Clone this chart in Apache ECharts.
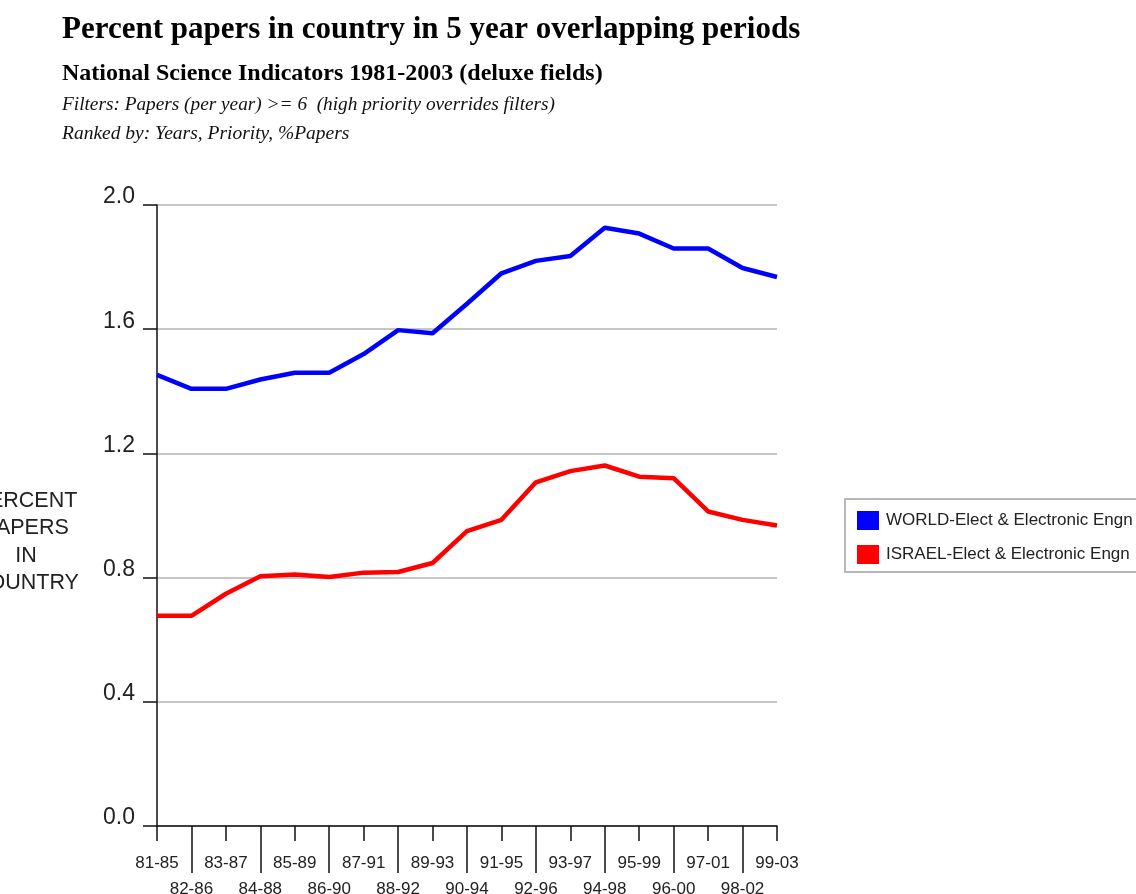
<!DOCTYPE html>
<html>
<head>
<meta charset="utf-8">
<script src="https://cdn.jsdelivr.net/npm/echarts@6/dist/echarts.min.js"></script>
<style>
html,body{margin:0;padding:0;background:#fff;}
#chart{width:1136px;height:894px;}
</style>
</head>
<body>
<div id="chart"></div>
<script>
const categories = ['81-85','82-86','83-87','84-88','85-89','86-90','87-91','88-92','89-93','90-94','91-95','92-96','93-97','94-98','95-99','96-00','97-01','98-02','99-03'];
const worldValues = [1.453,1.408,1.408,1.438,1.46,1.46,1.52,1.597,1.587,1.682,1.78,1.82,1.836,1.927,1.908,1.86,1.86,1.797,1.768];
const israelValues = [0.677,0.677,0.748,0.804,0.81,0.802,0.816,0.818,0.847,0.95,0.986,1.107,1.143,1.161,1.125,1.12,1.013,0.986,0.968];
const seriesNames = ['WORLD-Elect & Electronic Engn','ISRAEL-Elect & Electronic Engn'];
const yTicks = {min: 0, max: 2, interval: 0.4};
const titleText = 'Percent papers in country in 5 year overlapping periods';
const subtitleText = 'National Science Indicators 1981-2003 (deluxe fields)';
const filterText = 'Filters: Papers (per year) >= 6  (high priority overrides filters)';
const rankText = 'Ranked by: Years, Priority, %Papers';
const yAxisName = 'PERCENT\nPAPERS\nIN\nCOUNTRY';

const chart = echarts.init(document.getElementById('chart'), null, {renderer: 'canvas'});
const axisColor = '#111';
const labelFont = 'Arial, "Liberation Sans", sans-serif';
const serif = '"Liberation Serif", "Times New Roman", serif';

const option = {
  backgroundColor: '#ffffff',
  animation: false,
  grid: {left: 157, right: 359, top: 205, bottom: 68, containLabel: false, outerBoundsMode: 'none'},
  legend: {
    orient: 'vertical',
    left: 845, top: 499,
    padding: [12, 12, 8, 12],
    itemWidth: 22, itemHeight: 19, itemGap: 15,
    icon: 'rect',
    borderColor: '#b8b8b8', borderWidth: 2,
    backgroundColor: '#fff',
    textStyle: {fontSize: 17, color: '#222', fontFamily: labelFont, padding: [0, 0, 0, 2]},
    data: seriesNames
  },
  xAxis: [
    {
      type: 'category', data: categories, boundaryGap: false, position: 'bottom',
      axisLine: {show: true, lineStyle: {color: axisColor, width: 1.5}},
      axisTick: {show: true, interval: (i) => i % 2 === 0, length: 15, lineStyle: {color: axisColor, width: 1.5}},
      axisLabel: {interval: (i) => i % 2 === 0, margin: 29, fontSize: 17, lineHeight: 17, color: '#222', fontFamily: labelFont},
      splitLine: {show: false}
    },
    {
      type: 'category', data: categories, boundaryGap: false, position: 'bottom', offset: 0,
      axisLine: {show: false},
      axisTick: {show: true, interval: (i) => i % 2 === 1, length: 47, lineStyle: {color: axisColor, width: 1.5}},
      axisLabel: {interval: (i) => i % 2 === 1, margin: 55, fontSize: 17, lineHeight: 17, color: '#222', fontFamily: labelFont},
      splitLine: {show: false}
    }
  ],
  yAxis: {
    type: 'value', min: yTicks.min, max: yTicks.max, interval: yTicks.interval,
    axisLine: {show: true, lineStyle: {color: axisColor, width: 1.5}},
    axisTick: {show: true, length: 14, lineStyle: {color: axisColor, width: 1.5}},
    axisLabel: {
      formatter: (v) => v.toFixed(1), fontSize: 23, lineHeight: 16, color: '#222', fontFamily: labelFont,
      margin: 22, verticalAlign: 'bottom'
    },
    splitLine: {show: true, lineStyle: {color: '#c6c6c6', width: 2}}
  },
  series: [
    {
      name: seriesNames[0], type: 'line', data: worldValues, xAxisIndex: 0,
      symbol: 'none', lineStyle: {color: '#0000ff', width: 4.5}, itemStyle: {color: '#0000ff'}
    },
    {
      name: seriesNames[1], type: 'line', data: israelValues, xAxisIndex: 0,
      symbol: 'none', lineStyle: {color: '#ff0000', width: 4.5}, itemStyle: {color: '#ff0000'}
    }
  ],
  graphic: [
    {type: 'text', left: 62, top: 14, style: {text: titleText, fontSize: 31, fontWeight: 'bold', fontFamily: serif, fill: '#000'}},
    {type: 'text', left: 62, top: 62, style: {text: subtitleText, fontSize: 24, fontWeight: 'bold', fontFamily: serif, fill: '#000'}},
    {type: 'text', left: 62, top: 95, style: {text: filterText, fontSize: 19.3, fontStyle: 'italic', fontFamily: serif, fill: '#111'}},
    {type: 'text', left: 62, top: 124, style: {text: rankText, fontSize: 19.5, fontStyle: 'italic', fontFamily: serif, fill: '#111'}},
    {type: 'text', x: 26, y: 542, style: {text: yAxisName, fontSize: 21.5, fontFamily: labelFont, fill: '#222', align: 'center', verticalAlign: 'middle', lineHeight: 27.5}}
  ]
};
chart.setOption(option);
</script>
</body>
</html>
